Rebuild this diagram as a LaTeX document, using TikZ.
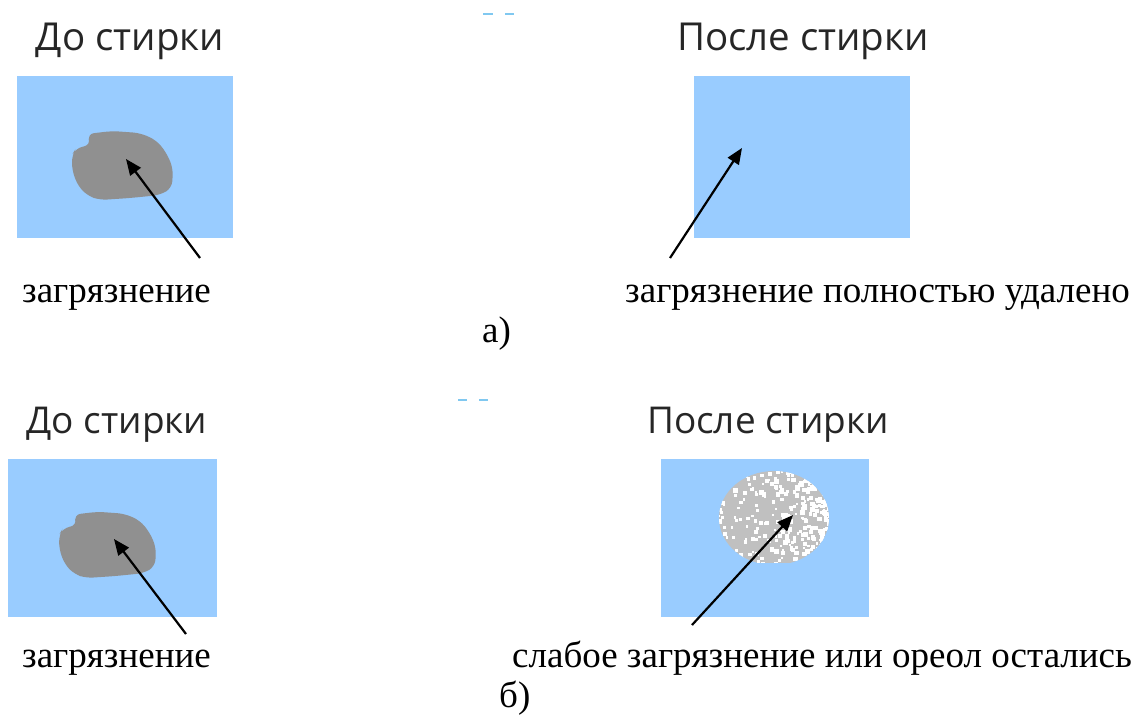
\documentclass[tikz,border=0pt]{standalone}
\usepackage{fontspec}
\setmainfont{Liberation Serif}
\newfontfamily\titlefont{Open Sans}
\usetikzlibrary{arrows.meta}
\definecolor{fabric}{HTML}{99CCFF}
\definecolor{stain}{HTML}{909090}
\definecolor{halo}{HTML}{C0C0C0}
\definecolor{tick}{HTML}{80C8F0}
\tikzset{
  x=1pt, y=-1pt,
  fabricbox/.style={fill=fabric, draw=none},
  stainblob/.style={fill=stain, draw=none, rounded corners=7pt},
  title/.style={font=\titlefont\fontsize{38.5}{42}\selectfont, anchor=base, inner sep=0pt, text=black!85},
  caption/.style={font=\fontsize{37}{40}\selectfont, anchor=base west, inner sep=0pt},
  pointer/.style={line width=2.2pt, -{Triangle[length=16pt,width=13pt]}},
  ticks/.style={draw=tick, line width=2pt},
}
\newcommand{\stainshape}{%
  (87,134) -- (112,131) -- (140,133) -- (156,140) -- (166,152) -- (173,168) --
  (172,188) -- (160,195) -- (130,198) -- (100,200) -- (88,196) -- (78,186) --
  (72,170) -- (72,155) -- (76,148) -- (91,145) -- cycle}
\begin{document}
\begin{tikzpicture}
\useasboundingbox (0,0) rectangle (1139,715);

% ---------- a) ----------
\draw[ticks] (483,14) -- (493,14) (505,14) -- (514,14);

\node[title] (ttl-a1) at (130,50) {До стирки};
\node[title] (ttl-a2) at (803,50) {После стирки};

\fill[fabricbox] (17,76) rectangle (233,238);
\fill[stainblob] \stainshape;
\fill[fabricbox] (694,76) rectangle (910,238);

\node[caption] (lab-a1) at (22,302) {загрязнение};
\node[caption] (lab-a2) at (625,302) {загрязнение полностью удалено};
\node[caption] (cap-a) at (482,342) {а)};

\coordinate (a1-from) at (200,258);
\coordinate (a1-to) at (126,159);
\coordinate (a2-from) at (670,258);
\coordinate (a2-to) at (742,148);
\draw[pointer] (a1-from) -- (a1-to);
\draw[pointer] (a2-from) -- (a2-to);

% ---------- б) ----------
\draw[ticks] (458,400) -- (467,400) (479,400) -- (488,400);

\node[title, scale=0.96] (ttl-b1) at (117,433) {До стирки};
\node[title, scale=0.96] (ttl-b2) at (768,433) {После стирки};

\fill[fabricbox] (8,459) rectangle (217,617);
\begin{scope}[shift={(-10,386)}, scale=0.96]
  \fill[stainblob] \stainshape;
\end{scope}
\fill[fabricbox] (661,459) rectangle (869,617);

% speckled halo left after washing, whiter towards the right
\begin{scope}
  \clip (719,470) rectangle (830,562);
  \clip (774,518) ellipse [x radius=55, y radius=47];
  \fill[halo] (715,465) rectangle (835,565);
  \pgfmathsetseed{11}
  \foreach \i in {1,...,170} {
    \pgfmathsetmacro{\px}{774+58*(2*rnd-1)}
    \pgfmathsetmacro{\py}{518+50*(2*rnd-1)}
    \pgfmathsetmacro{\ps}{2+2.5*rnd}
    \fill[white] (\px,\py) rectangle ++(\ps,\ps);
  }
  \foreach \i in {1,...,260} {
    \pgfmathsetmacro{\px}{833-80*rnd*rnd}
    \pgfmathsetmacro{\py}{515+48*(2*rnd-1)}
    \pgfmathsetmacro{\ps}{2+3*rnd}
    \fill[white] (\px,\py) rectangle ++(\ps,\ps);
  }
\end{scope}

\node[caption] (lab-b1) at (22,667) {загрязнение};
\node[caption] (lab-b2) at (512,667) {слабое загрязнение или ореол остались};
\node[caption] (cap-b) at (499,707) {б)};

\coordinate (b1-from) at (186,634);
\coordinate (b1-to) at (114,539);
\coordinate (b2-from) at (692,625);
\coordinate (b2-to) at (793,515);
\draw[pointer] (b1-from) -- (b1-to);
\draw[pointer] (b2-from) -- (b2-to);
\end{tikzpicture}
\end{document}
